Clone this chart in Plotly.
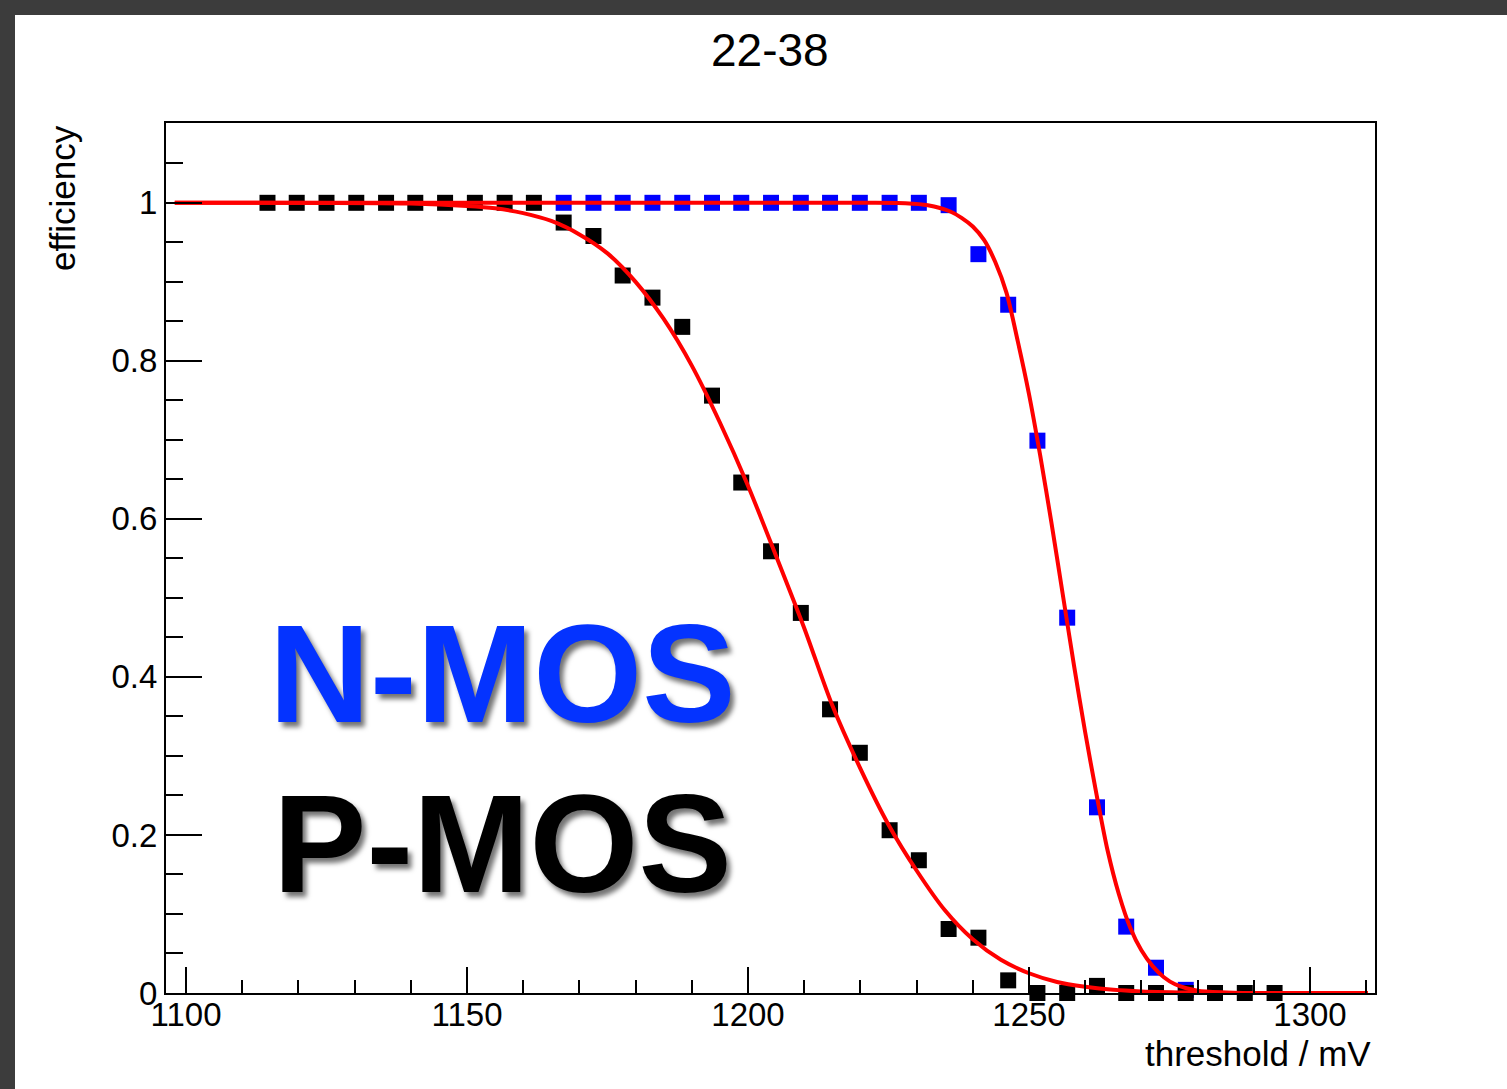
import plotly.graph_objects as go

# ---- data ----
threshold = [1114.5, 1119.7, 1125.0, 1130.3, 1135.6, 1140.8, 1146.1, 1151.4, 1156.7, 1161.9,
             1167.2, 1172.5, 1177.7, 1183.0, 1188.3, 1193.6, 1198.8, 1204.1, 1209.4, 1214.6,
             1219.9, 1225.2, 1230.4, 1235.7, 1241.0, 1246.3, 1251.5, 1256.8, 1262.1, 1267.3,
             1272.6, 1277.9, 1283.1, 1288.4, 1293.7]
pmos_eff = [1.0, 1.0, 1.0, 1.0, 1.0, 1.0, 1.0, 1.0, 1.0, 1.0,
            0.975, 0.958, 0.908, 0.880, 0.843, 0.756, 0.646, 0.559, 0.481, 0.359,
            0.304, 0.206, 0.168, 0.081, 0.070, 0.016, 0.0, 0.0, 0.009, 0.0,
            0.0, 0.0, 0.0, 0.0, 0.0]

nmos_threshold = [1167.2, 1172.5, 1177.7, 1183.0, 1188.3, 1193.6, 1198.8, 1204.1, 1209.4, 1214.6,
                  1219.9, 1225.2, 1230.4, 1235.7, 1241.0, 1246.3, 1251.5, 1256.8, 1262.1, 1267.3,
                  1272.6, 1277.9]
nmos_eff = [1.0, 1.0, 1.0, 1.0, 1.0, 1.0, 1.0, 1.0, 1.0, 1.0,
            1.0, 1.0, 1.0, 0.997, 0.935, 0.871, 0.699, 0.475, 0.235, 0.084,
            0.032, 0.004]

# fit curves
pmos_fit_x = [1098.0, 1140, 1150, 1155, 1160, 1165, 1170, 1175, 1180, 1185,
              1190, 1195, 1200, 1205, 1210, 1215, 1220, 1225, 1230, 1235,
              1240, 1245, 1250, 1255, 1260, 1265, 1270, 1280, 1290, 1310.3]
pmos_fit_y = [1.0, 0.999, 0.996, 0.993, 0.987, 0.977, 0.960, 0.936, 0.900, 0.853,
              0.794, 0.722, 0.642, 0.553, 0.462, 0.364, 0.284, 0.213, 0.155, 0.105,
              0.068, 0.042, 0.025, 0.014, 0.008, 0.004, 0.002, 0.0005, 0.0, 0.0]
nmos_fit_x = [1098.0, 1220, 1228, 1232, 1236, 1238, 1240, 1242, 1244, 1246,
              1248, 1250, 1252, 1254, 1256, 1258, 1260, 1262, 1264, 1266,
              1268, 1270, 1272, 1274, 1276, 1278, 1280, 1284, 1290, 1310.3]
nmos_fit_y = [1.0, 1.0, 0.9995, 0.997, 0.989, 0.981, 0.970, 0.953, 0.925, 0.886,
              0.825, 0.758, 0.680, 0.595, 0.505, 0.415, 0.330, 0.252, 0.180, 0.125,
              0.083, 0.054, 0.034, 0.020, 0.011, 0.006, 0.003, 0.001, 0.0, 0.0]

x_ticks = [1100, 1150, 1200, 1250, 1300]
y_ticks = [0, 0.2, 0.4, 0.6, 0.8, 1]
y_tick_labels = ["0", "0.2", "0.4", "0.6", "0.8", "1"]

FONT = "Liberation Sans, Arial, Helvetica, sans-serif"

fig = go.Figure()
fig.add_trace(go.Scatter(x=nmos_threshold, y=nmos_eff, mode="markers",
                         marker=dict(symbol="square", size=16, color="#0000ff", line=dict(width=0)),
                         showlegend=False, cliponaxis=False))
fig.add_trace(go.Scatter(x=threshold, y=pmos_eff, mode="markers",
                         marker=dict(symbol="square", size=16, color="#000000", line=dict(width=0)),
                         showlegend=False, cliponaxis=False))
fig.add_trace(go.Scatter(x=pmos_fit_x, y=pmos_fit_y, mode="lines",
                         line=dict(color="#ff0000", width=4, shape="spline", smoothing=0.8),
                         showlegend=False, cliponaxis=False))
fig.add_trace(go.Scatter(x=nmos_fit_x, y=nmos_fit_y, mode="lines",
                         line=dict(color="#ff0000", width=4, shape="spline", smoothing=0.8),
                         showlegend=False, cliponaxis=False))

L, R, T, B = 166, 132, 123, 96
W, H = 1507, 1089
pw, ph = W - L - R, H - T - B

def px_x(p):
    return (p - L) / pw

def px_y(p):
    return (H - B - p) / ph

shapes = [
    dict(type="rect", xref="paper", yref="paper", x0=px_x(-5), x1=px_x(W + 5), y0=px_y(15), y1=px_y(-5),
         fillcolor="#3c3c3c", line=dict(width=0), layer="below"),
    dict(type="rect", xref="paper", yref="paper", x0=px_x(-5), x1=px_x(15), y0=px_y(H + 5), y1=px_y(-5),
         fillcolor="#3c3c3c", line=dict(width=0), layer="below"),
]

annotations = [
    dict(text="22-38", xref="paper", yref="paper", x=px_x(770), y=px_y(50),
         xanchor="center", yanchor="middle", showarrow=False,
         font=dict(family=FONT, size=46, color="black")),
    dict(text="efficiency", xref="paper", yref="paper", x=px_x(62), y=px_y(123),
         xanchor="center", yanchor="top", textangle=-90, showarrow=False,
         font=dict(family=FONT, size=35, color="black")),
    dict(text="threshold / mV", xref="paper", yref="paper", x=px_x(1373), y=px_y(1053),
         xanchor="right", yanchor="middle", showarrow=False,
         font=dict(family=FONT, size=35, color="black")),
    dict(text="N-MOS", xref="paper", yref="paper", x=px_x(502), y=px_y(673),
         xanchor="center", yanchor="middle", showarrow=False,
         font=dict(family=FONT, size=140, color="#0433ff", weight="bold",
                   shadow="4px 5px 5px rgba(0,0,0,0.55)")),
    dict(text="P-MOS", xref="paper", yref="paper", x=px_x(502), y=px_y(843),
         xanchor="center", yanchor="middle", showarrow=False,
         font=dict(family=FONT, size=140, color="#000000", weight="bold",
                   shadow="4px 5px 5px rgba(0,0,0,0.55)")),
]

fig.update_layout(
    width=W, height=H,
    margin=dict(l=L, r=R, t=T, b=B, pad=0),
    paper_bgcolor="white", plot_bgcolor="white",
    font=dict(family=FONT, size=33, color="black"),
    shapes=shapes, annotations=annotations, showlegend=False,
)
fig.update_xaxes(range=[1096.44, 1311.57], tickmode="array", tickvals=x_ticks,
                 ticktext=[str(v) for v in x_ticks],
                 ticks="inside", ticklen=26, tickwidth=2, tickcolor="black",
                 minor=dict(dtick=10, tick0=1100, ticks="inside", ticklen=13, tickwidth=2, tickcolor="black"),
                 showline=True, linewidth=2, linecolor="black", mirror=True,
                 showgrid=False, zeroline=False, tickfont=dict(size=33), ticklabelstandoff=-9)
fig.update_yaxes(range=[0, 1.101], tickmode="array", tickvals=y_ticks, ticktext=y_tick_labels,
                 ticks="inside", ticklen=36, tickwidth=2, tickcolor="black",
                 minor=dict(dtick=0.05, tick0=0, ticks="inside", ticklen=17, tickwidth=2, tickcolor="black"),
                 showline=True, linewidth=2, linecolor="black", mirror=True,
                 showgrid=False, zeroline=False, tickfont=dict(size=33))

fig.write_html("out.html", config={"displayModeBar": False},
               post_script="document.body.style.margin='0';document.body.style.overflow='hidden';")
